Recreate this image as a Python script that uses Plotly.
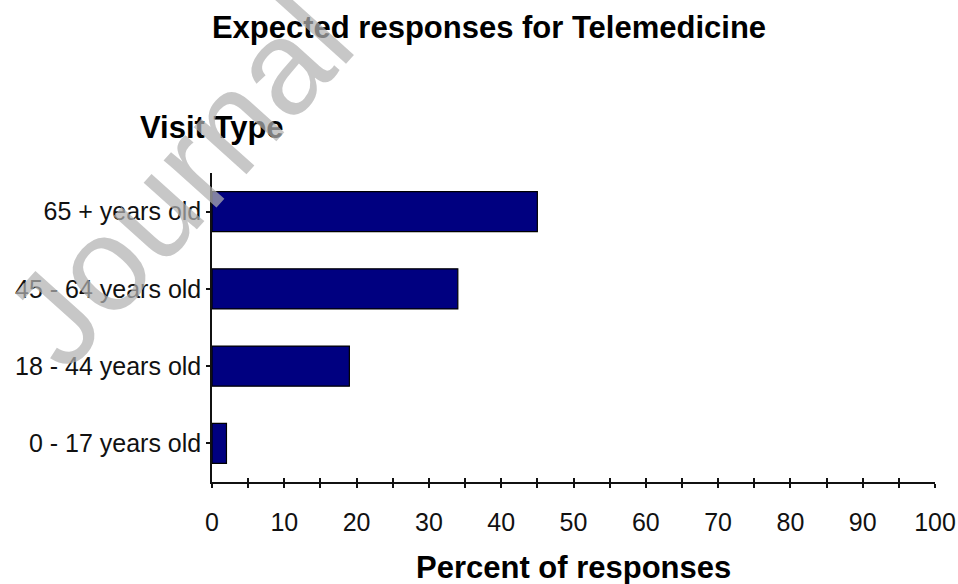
import plotly.graph_objects as go

categories = ["0 - 17 years old", "18 - 44 years old", "45 - 64 years old", "65 + years old"]
values = [2, 19, 34, 45]
x_ticks = [0, 10, 20, 30, 40, 50, 60, 70, 80, 90, 100]

W, H = 958, 584
L, R, T, B = 212, 935, 173, 482


def px(x):
    return (x - L) / (R - L)


def py(y):
    return (B - y) / (B - T)


FONT = "Liberation Sans, Arial, sans-serif"

fig = go.Figure()
fig.add_trace(go.Bar(
    y=categories, x=values, orientation="h",
    marker=dict(color="#000080", line=dict(color="#000000", width=1.2)),
    width=0.52, hoverinfo="x+y", showlegend=False,
))
# dummy trace so the overlay axis (for crossing ticks) is drawn
fig.add_trace(go.Scatter(
    x=[0], y=[categories[0]], xaxis="x2", mode="markers",
    marker=dict(opacity=0), hoverinfo="skip", showlegend=False,
))

axis_font = dict(family=FONT, size=25, color="#111")

fig.update_layout(
    width=W, height=H, autosize=False,
    margin=dict(l=L, r=W - R, t=T, b=H - B, pad=0, autoexpand=False),
    paper_bgcolor="white", plot_bgcolor="white",
    title=dict(
        text="<b>Expected responses for Telemedicine</b>",
        x=489 / W, xanchor="center", y=1 - 27 / H, yanchor="middle",
        font=dict(family=FONT, size=31, color="#000"), automargin=False,
    ),
    xaxis=dict(
        range=[0, 100], tickvals=x_ticks, ticks="outside", ticklen=4,
        tickwidth=1.5, tickcolor="#111", automargin=False,
        minor=dict(dtick=5, ticks="outside", ticklen=4, tickwidth=1.5, tickcolor="#111"),
        showline=True, linecolor="#111", linewidth=1.5,
        showgrid=False, zeroline=False,
        tickfont=axis_font, ticklabelstandoff=13,
    ),
    xaxis2=dict(
        range=[0, 100], overlaying="x", anchor="y", side="bottom", automargin=False,
        tickvals=x_ticks, ticks="inside", ticklen=4, tickwidth=1.5, tickcolor="#111",
        minor=dict(dtick=5, ticks="inside", ticklen=4, tickwidth=1.5, tickcolor="#111"),
        showticklabels=False, showgrid=False, zeroline=False, showline=False,
    ),
    yaxis=dict(
        categoryorder="array", categoryarray=categories, automargin=False,
        range=[-0.5, 3.5], ticks="outside", ticklen=4, tickwidth=1.5, tickcolor="#111",
        showline=True, linecolor="#111", linewidth=1.5,
        showgrid=False, zeroline=False, tickfont=axis_font,
    ),
    annotations=[
        dict(text="<b>Visit Type</b>", xref="paper", yref="paper",
             x=px(212), y=py(127), xanchor="center", yanchor="middle",
             showarrow=False, font=dict(family=FONT, size=31, color="#000")),
        dict(text="<b>Percent of responses</b>", xref="paper", yref="paper",
             x=px(573.5), y=py(567), xanchor="center", yanchor="middle",
             showarrow=False, font=dict(family=FONT, size=31, color="#000")),
        dict(text="Journal", xref="paper", yref="paper",
             x=px(178), y=py(180), xanchor="center", yanchor="middle",
             textangle=-48, showarrow=False,
             font=dict(family=FONT, size=134, color="rgba(178,178,178,0.72)")),
    ],
)

fig.write_html("out.html", config={"displayModeBar": False},
               post_script="document.body.style.margin='0';")
